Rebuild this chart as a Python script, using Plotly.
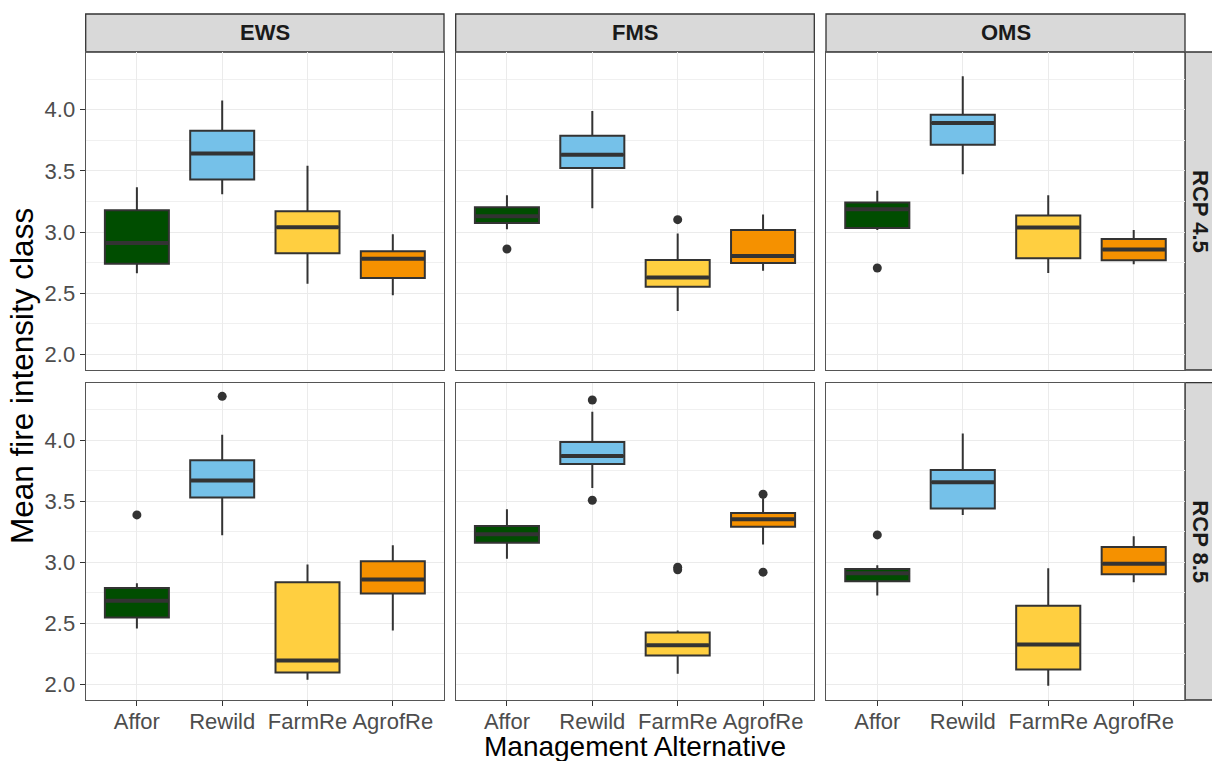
import plotly.graph_objects as go

categories = ["Affor", "Rewild", "FarmRe", "AgrofRe"]
columns = ["EWS", "FMS", "OMS"]
rows = ["RCP 4.5", "RCP 8.5"]
colors = ["#004D00", "#75C1E9", "#FFCF40", "#F59100"]

# stats per row: [EWS, FMS, OMS] x [Affor, Rewild, FarmRe, AgrofRe]
lo_rcp45 = [[2.663, 3.310, 2.578, 2.483], [3.023, 3.195, 2.355, 2.685], [3.018, 3.473, 2.666, 2.737]]
q1_rcp45 = [[2.742, 3.430, 2.827, 2.625], [3.075, 3.523, 2.554, 2.748], [3.034, 3.714, 2.786, 2.769]]
med_rcp45 = [[2.911, 3.643, 3.040, 2.783], [3.130, 3.632, 2.628, 2.805], [3.187, 3.891, 3.037, 2.857]]
q3_rcp45 = [[3.179, 3.828, 3.171, 2.843], [3.203, 3.787, 2.772, 3.018], [3.241, 3.959, 3.135, 2.944]]
hi_rcp45 = [[3.367, 4.076, 3.542, 2.982], [3.301, 3.989, 2.988, 3.143], [3.337, 4.273, 3.301, 3.018]]
out_cat_rcp45 = [[], [0, 2], [0]]
out_val_rcp45 = [[], [2.862, 3.102], [2.707]]

lo_rcp85 = [[2.458, 3.222, 2.038, 2.442], [3.031, 3.610, 2.087, 3.146], [2.729, 3.389, 1.989, 2.838]]
q1_rcp85 = [[2.548, 3.531, 2.098, 2.745], [3.162, 3.806, 2.237, 3.293], [2.846, 3.441, 2.123, 2.903]]
med_rcp85 = [[2.685, 3.670, 2.196, 2.859], [3.231, 3.872, 2.322, 3.353], [2.911, 3.656, 2.327, 2.990]]
q3_rcp85 = [[2.791, 3.836, 2.838, 3.010], [3.299, 3.986, 2.426, 3.405], [2.947, 3.757, 2.646, 3.127]]
hi_rcp85 = [[2.829, 4.046, 2.982, 3.141], [3.435, 4.235, 2.442, 3.525], [2.977, 4.055, 2.952, 3.214]]
out_cat_rcp85 = [[0, 1], [1, 1, 2, 2, 3, 3], [0]]
out_val_rcp85 = [[3.389, 4.360], [4.330, 3.509, 2.960, 2.939, 3.558, 2.920], [3.225]]

y_ticks = [2.0, 2.5, 3.0, 3.5, 4.0]
y_range = [1.873, 4.472]

stats = {
    0: (lo_rcp45, q1_rcp45, med_rcp45, q3_rcp45, hi_rcp45, out_cat_rcp45, out_val_rcp45),
    1: (lo_rcp85, q1_rcp85, med_rcp85, q3_rcp85, hi_rcp85, out_cat_rcp85, out_val_rcp85),
}

W, H = 1212, 761
col_px = [(85.7, 444.0), (455.7, 814.3), (826.0, 1185.0)]
row_px = [(52.0, 370.0), (382.7, 700.0)]
strip_top = 14.0
box_w = 0.75
dark = "#333333"
FONT = "Liberation Sans, Arial"

def px_x(p):
    return p / W

def px_y(p):
    return 1 - p / H

fig = go.Figure()
layout = {}

for r in range(2):
    lo, q1, med, q3, hi, oc, ov = stats[r]
    for c in range(3):
        k = r * 3 + c + 1
        xa = "x" if k == 1 else f"x{k}"
        ya = "y" if k == 1 else f"y{k}"
        for i, cat in enumerate(categories):
            fig.add_trace(go.Box(
                x=[i], q1=[q1[c][i]], median=[med[c][i]], q3=[q3[c][i]],
                lowerfence=[lo[c][i]], upperfence=[hi[c][i]],
                width=box_w, whiskerwidth=0, boxpoints=False,
                fillcolor=colors[i], line=dict(color=dark, width=2),
                xaxis=xa, yaxis=ya, showlegend=False, hoverinfo="skip"))
            fig.add_trace(go.Scatter(
                x=[i - box_w / 2 + 0.01, i + box_w / 2 - 0.01], y=[med[c][i], med[c][i]],
                mode="lines", line=dict(color=dark, width=4),
                xaxis=xa, yaxis=ya, showlegend=False, hoverinfo="skip"))
        if oc[c]:
            fig.add_trace(go.Scatter(
                x=oc[c], y=ov[c], mode="markers",
                marker=dict(color=dark, size=9),
                xaxis=xa, yaxis=ya, showlegend=False, hoverinfo="skip"))

        x0, x1 = col_px[c]
        y0, y1 = row_px[r]
        axname_x = "xaxis" if k == 1 else f"xaxis{k}"
        axname_y = "yaxis" if k == 1 else f"yaxis{k}"
        layout[axname_x] = dict(
            domain=[px_x(x0), px_x(x1)], anchor=ya, range=[-0.6, 3.6],
            tickmode="array", tickvals=list(range(len(categories))), ticktext=categories,
            showticklabels=(r == 1), ticks="outside" if r == 1 else "",
            ticklen=5, tickwidth=1.3, tickcolor=dark, ticklabelstandoff=-4,
            tickfont=dict(family=FONT, size=22, color="#4D4D4D"),
            showgrid=True, gridcolor="#EBEBEB", gridwidth=1.4,
            showline=True, mirror=True, linecolor="#555555", linewidth=1.2,
            zeroline=False, fixedrange=True)
        layout[axname_y] = dict(
            domain=[px_y(y1), px_y(y0)], anchor=xa, range=y_range,
            tickmode="array", tickvals=y_ticks, ticktext=[f"{v:.1f}" for v in y_ticks],
            showticklabels=(c == 0), ticks="outside" if c == 0 else "",
            ticklen=5, tickwidth=1.3, tickcolor=dark,
            tickfont=dict(family=FONT, size=22, color="#4D4D4D"),
            showgrid=True, gridcolor="#EBEBEB", gridwidth=1.4,
            minor=dict(tick0=2.25, dtick=0.5, showgrid=True, gridcolor="#F0F0F0", gridwidth=0.9),
            showline=True, mirror=True, linecolor="#555555", linewidth=1.2,
            zeroline=False, fixedrange=True)

shapes = []
annotations = []
for c, name in enumerate(columns):
    x0, x1 = col_px[c]
    shapes.append(dict(type="rect", xref="paper", yref="paper",
                       x0=px_x(x0), x1=px_x(x1), y0=px_y(row_px[0][0]), y1=px_y(strip_top),
                       fillcolor="#D9D9D9", line=dict(color=dark, width=1.3), layer="below"))
    annotations.append(dict(text=f"<b>{name}</b>", xref="paper", yref="paper",
                            x=px_x((x0 + x1) / 2), y=px_y((strip_top + row_px[0][0]) / 2),
                            showarrow=False, xanchor="center", yanchor="middle",
                            font=dict(family=FONT, size=22, color="#1A1A1A")))
for r, name in enumerate(rows):
    y0, y1 = row_px[r]
    shapes.append(dict(type="rect", xref="paper", yref="paper",
                       x0=px_x(col_px[2][1]), x1=px_x(1225), y0=px_y(y1), y1=px_y(y0),
                       fillcolor="#D9D9D9", line=dict(color=dark, width=1.3), layer="below"))
    annotations.append(dict(text=f"<b>{name}</b>", xref="paper", yref="paper",
                            x=px_x(1201), y=px_y((y0 + y1) / 2), textangle=90,
                            showarrow=False, xanchor="center", yanchor="middle",
                            font=dict(family=FONT, size=22, color="#1A1A1A")))

annotations.append(dict(text="Mean fire intensity class", xref="paper", yref="paper",
                        x=px_x(22), y=px_y((row_px[0][0] + row_px[1][1]) / 2), textangle=-90,
                        showarrow=False, xanchor="center", yanchor="middle",
                        font=dict(family=FONT, size=31.5, color="#000000")))
annotations.append(dict(text="Management Alternative", xref="paper", yref="paper",
                        x=px_x((col_px[0][0] + col_px[2][1]) / 2), y=px_y(746),
                        showarrow=False, xanchor="center", yanchor="middle",
                        font=dict(family=FONT, size=28, color="#000000")))

fig.update_layout(
    width=W, height=H, margin=dict(l=0, r=0, t=0, b=0),
    paper_bgcolor="white", plot_bgcolor="white",
    shapes=shapes, annotations=annotations, showlegend=False,
    **layout)

fig.write_html("out.html", config={"displayModeBar": False},
               post_script="document.body.style.margin='0px';document.body.style.padding='0px';document.body.style.overflow='hidden';")
